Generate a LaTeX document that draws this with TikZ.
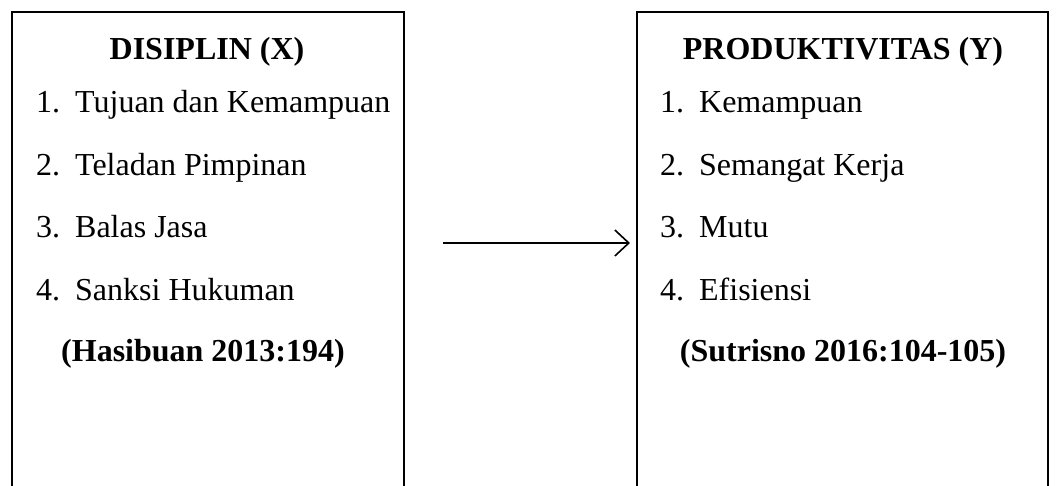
\documentclass[tikz,border=0pt]{standalone}
\usepackage{fontspec}
\setmainfont{Liberation Serif}
\usetikzlibrary{arrows.meta}
\begin{document}
\begin{tikzpicture}[x=1pt,y=-1pt,
  frame/.style={line width=2.8pt},
  txt/.style={inner sep=0pt,anchor=base west,font=\fontsize{32}{37}\selectfont},
  ttl/.style={inner sep=0pt,anchor=base,font=\fontsize{32}{37}\selectfont\bfseries},
  conn/.style={line width=1.6pt,-{Straight Barb[length=14pt,width=26pt,line width=1.6pt]}}]
\useasboundingbox (0,0) rectangle (1058,485);
% left box
\coordinate (l1) at (12,486);
\coordinate (l2) at (12,12);
\coordinate (l3) at (404,12);
\coordinate (l4) at (404,486);
\draw[frame] (l1) -- (l2) -- (l3) -- (l4);
% right box
\coordinate (r1) at (637,486);
\coordinate (r2) at (637,12);
\coordinate (r3) at (1048,12);
\coordinate (r4) at (1048,486);
\draw[frame] (r1) -- (r2) -- (r3) -- (r4);
% left texts
\node[ttl] (lt) at (207,59) {DISIPLIN (X)};
\node[txt] (li1) at (36,112) {\makebox[39pt][l]{1.}Tujuan dan Kemampuan};
\node[txt] (li2) at (36,175.5) {\makebox[39pt][l]{2.}Teladan Pimpinan};
\node[txt] (li3) at (36,237) {\makebox[39pt][l]{3.}Balas Jasa};
\node[txt] (li4) at (36,300) {\makebox[39pt][l]{4.}Sanksi Hukuman};
\node[ttl] (lsrc) at (203,361) {(Hasibuan 2013:194)};
% right texts
\node[ttl] (rt) at (843,59) {PRODUKTIVITAS (Y)};
\node[txt] (ri1) at (660,112) {\makebox[39pt][l]{1.}Kemampuan};
\node[txt] (ri2) at (660,175.5) {\makebox[39pt][l]{2.}Semangat Kerja};
\node[txt] (ri3) at (660,237) {\makebox[39pt][l]{3.}Mutu};
\node[txt] (ri4) at (660,300) {\makebox[39pt][l]{4.}Efisiensi};
\node[ttl] (rsrc) at (843,361) {(Sutrisno 2016:104-105)};
% arrow
\coordinate (a1) at (443,243);
\coordinate (a2) at (630,243);
\draw[conn] (a1) -- (a2);
\end{tikzpicture}
\end{document}
